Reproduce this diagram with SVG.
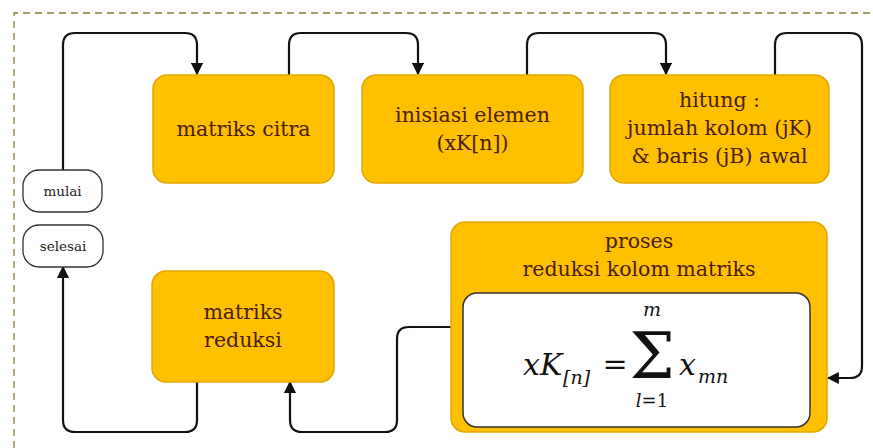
<svg xmlns="http://www.w3.org/2000/svg" width="873" height="448" viewBox="0 0 873 448">
<style>
.box{fill:#FFC000;stroke:#E3A600;stroke-width:1.5}
.term{fill:#fff;stroke:#333;stroke-width:1.3}
.lbl{font-family:"DejaVu Serif",serif;font-size:20.5px;fill:#4a1c0c;text-anchor:middle}
.tl{font-family:"DejaVu Serif",serif;font-size:13.5px;fill:#222;text-anchor:middle}
.conn{fill:none;stroke:#111;stroke-width:2.2;stroke-linejoin:round}
.math{font-family:"DejaVu Serif",serif;fill:#111;font-style:italic}
.mr{font-family:"DejaVu Serif",serif;fill:#111;text-anchor:middle}
</style>
<defs>
<marker id="ah" viewBox="0 0 10 10" refX="9" refY="5" markerWidth="5.5" markerHeight="5.5" orient="auto" markerUnits="strokeWidth">
<path d="M0,0 L10,5 L0,10 z" fill="#111"/>
</marker>
</defs>
<rect width="873" height="448" fill="#fff"/>
<path d="M14,448 V13 H873" fill="none" stroke="#8a7a3a" stroke-width="1.3" stroke-dasharray="7,5"/>

<g id="connectors">
<path class="conn" d="M63,170 V45 Q63,33 75,33 H185 Q197,33 197,45 V74" marker-end="url(#ah)"/>
<path class="conn" d="M289,75 V45 Q289,33 301,33 H406 Q418,33 418,45 V74" marker-end="url(#ah)"/>
<path class="conn" d="M527,75 V45 Q527,33 539,33 H654 Q666,33 666,45 V74" marker-end="url(#ah)"/>
<path class="conn" d="M775,75 V45 Q775,33 787,33 H850 Q862,33 862,45 V366 Q862,378 850,378 H828" marker-end="url(#ah)"/>
<path class="conn" d="M451,327 H409 Q397,327 397,339 V420 Q397,432 385,432 H302 Q290,432 290,420 V382" marker-end="url(#ah)"/>
<path class="conn" d="M197,382 V420 Q197,432 185,432 H75 Q63,432 63,420 V267" marker-end="url(#ah)"/>
</g>

<g id="mulai">
<rect class="term" x="23" y="170" width="79" height="42" rx="16"/>
<text class="tl" x="62.5" y="196">mulai</text>
</g>
<g id="selesai">
<rect class="term" x="23" y="225" width="80" height="42" rx="16"/>
<text class="tl" x="63" y="251">selesai</text>
</g>
<g id="matriks-citra">
<rect class="box" x="153" y="75" width="181" height="108" rx="14"/>
<text class="lbl" x="243.5" y="136">matriks citra</text>
</g>
<g id="inisiasi">
<rect class="box" x="362" y="75" width="221" height="108" rx="14"/>
<text class="lbl" x="472.5" y="122">inisiasi elemen</text>
<text class="lbl" x="472.5" y="150">(xK[n])</text>
</g>
<g id="hitung">
<rect class="box" x="610" y="75" width="219" height="108" rx="14"/>
<text class="lbl" x="719.5" y="107">hitung :</text>
<text class="lbl" x="719.5" y="135">jumlah kolom (jK)</text>
<text class="lbl" x="719.5" y="163">&amp; baris (jB) awal</text>
</g>
<g id="matriks-reduksi">
<rect class="box" x="152" y="271" width="182" height="111" rx="14"/>
<text class="lbl" x="243" y="319">matriks</text>
<text class="lbl" x="243" y="347">reduksi</text>
</g>
<g id="proses">
<rect class="box" x="451" y="222" width="376" height="210" rx="14"/>
<text class="lbl" x="639" y="248">proses</text>
<text class="lbl" x="639" y="276">reduksi kolom matriks</text>
<rect x="463" y="293" width="347" height="134" rx="14" fill="#fff" stroke="#333" stroke-width="1.5"/>
<text class="math" x="523" y="375" font-size="30">xK</text>
<text class="math" x="563" y="384" font-size="19">[n]</text>
<text class="mr" x="615" y="374" font-size="30">=</text>
<text class="mr" x="652" y="378" font-size="64">Σ</text>
<text class="math" x="652" y="316" font-size="19" text-anchor="middle">m</text>
<text class="mr" x="652" y="407" font-size="18"><tspan font-style="italic">l</tspan>=1</text>
<text class="math" x="679" y="375" font-size="30">x</text>
<text class="math" x="698" y="383" font-size="19">mn</text>
</g>
</svg>
